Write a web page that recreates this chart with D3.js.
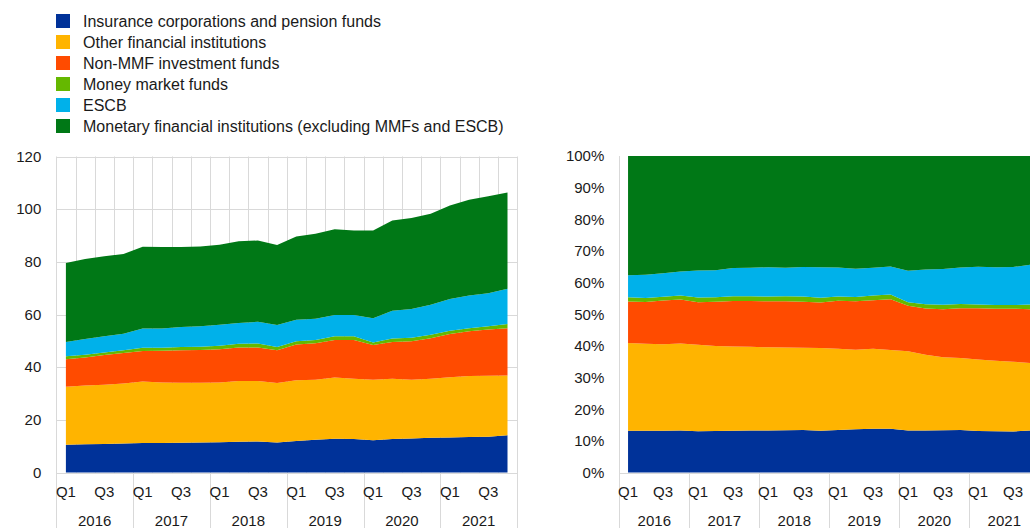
<!DOCTYPE html>
<html>
<head>
<meta charset="utf-8">
<script src="https://cdn.jsdelivr.net/npm/d3@7"></script>
<style>
  html, body { margin: 0; padding: 0; background: #fff; }
  svg { display: block; font-family: "Liberation Sans", Arial, sans-serif; }
</style>
</head>
<body>
<svg id="chart" width="1030" height="528"></svg>
<script>
// ---------------- DATA ----------------
const years = ["2016", "2017", "2018", "2019", "2020", "2021"];
const quarterNames = ["Q1", "Q2", "Q3", "Q4"];
const quarterTickLabels = ["Q1", "Q3"];

const seriesNames = [
  "Insurance corporations and pension funds",
  "Other financial institutions",
  "Non-MMF investment funds",
  "Money market funds",
  "ESCB",
  "Monetary financial institutions (excluding MMFs and ESCB)"
];
const seriesColors = ["#003299", "#ffb400", "#ff4b00", "#65b800", "#00b1ea", "#007816"];

// Values, 2016Q1 .. 2021Q4
const insurancePension = [10.5,10.7,10.8,11.0,11.2,11.2,11.3,11.4,11.5,11.7,11.8,11.4,12.0,12.4,12.8,12.7,12.2,12.7,12.9,13.2,13.3,13.5,13.6,14.1];
const otherFinancial   = [22.1,22.3,22.5,22.8,23.4,23.0,22.8,22.7,22.7,23.0,22.9,22.6,23.0,22.8,23.3,22.9,23.0,22.9,22.3,22.4,22.9,23.1,23.1,22.7];
const nonMMFFunds      = [10.4,10.7,11.3,11.6,11.5,12.0,12.3,12.4,12.6,12.8,12.8,12.4,13.6,13.9,14.2,14.7,13.2,14.0,14.6,15.4,16.4,17.0,17.6,18.0];
const moneyMarketFunds = [1.1,1.0,1.0,1.0,1.3,1.2,1.3,1.3,1.3,1.4,1.5,1.3,1.2,1.2,1.4,1.4,1.0,1.3,1.4,1.3,1.2,1.2,1.2,1.6];
const escb             = [5.5,6.0,6.1,6.3,7.3,7.3,7.6,7.7,8.0,7.9,8.2,8.3,8.2,8.1,8.1,8.1,9.2,10.5,10.9,11.4,12.1,12.4,12.6,13.4];
const mfiExcl          = [30.0,30.4,30.4,30.3,31.0,30.9,30.3,30.3,30.4,31.0,30.9,30.4,31.6,32.3,32.6,32.1,33.3,34.3,34.5,34.6,35.5,36.4,36.8,36.5];

const leftTicks = [0, 20, 40, 60, 80, 100, 120];
const rightTicks = [0, 0.1, 0.2, 0.3, 0.4, 0.5, 0.6, 0.7, 0.8, 0.9, 1.0];

// ---------------- BUILD TABLE ----------------
const periods = [];
years.forEach(y => quarterNames.forEach(q => periods.push({ year: y, q: q })));
const keys = ["ic", "ofi", "nmmf", "mmf", "escb", "mfi"];
const seriesArrays = [insurancePension, otherFinancial, nonMMFFunds, moneyMarketFunds, escb, mfiExcl];
const table = periods.map((p, i) => {
  const row = { idx: i, year: p.year, q: p.q };
  keys.forEach((k, j) => row[k] = seriesArrays[j][i]);
  return row;
});

const svg = d3.select("#chart");
const FONT = 15;
const gridColor = "#d9d9d9";
const textColor = "#1a1a1a";

// ---------------- LEGEND ----------------
const legend = svg.append("g");
seriesNames.forEach((name, i) => {
  legend.append("rect")
    .attr("x", 56).attr("y", 14 + i * 21)
    .attr("width", 14).attr("height", 14)
    .attr("fill", seriesColors[i]);
  legend.append("text")
    .attr("x", 83).attr("y", 26.5 + i * 21)
    .attr("font-size", 16).attr("fill", textColor)
    .text(name);
});

// ---------------- PANEL FUNCTION ----------------
function panel(cfg) {
  const g = svg.append("g");
  const x = d3.scaleBand().domain(table.map(d => d.idx)).range([cfg.x0, cfg.x1]).padding(0);
  const y = d3.scaleLinear().domain(cfg.domain).range([cfg.yBottom, cfg.yTop]);
  const bw = x.bandwidth();
  const cx = i => x(i) + bw / 2;

  // grid
  const grid = g.append("g");
  if (cfg.hGrid) {
    cfg.ticks.forEach(t => {
      grid.append("line")
        .attr("x1", cfg.x0).attr("x2", cfg.x1)
        .attr("y1", Math.round(y(t)) + 0.5).attr("y2", Math.round(y(t)) + 0.5)
        .attr("stroke", gridColor).attr("stroke-width", 1);
    });
  }
  for (let i = 0; i <= table.length; i++) {
    const xx = i < table.length ? x(i) : cfg.x1;
    const isYear = i % 4 === 0;
    const top = (cfg.vGrid || i === 0) ? cfg.yTop : cfg.yBottom;
    const bottom = isYear ? 528 : cfg.yBottom;
    if (!cfg.vGrid && !isYear) continue;
    grid.append("line")
      .attr("x1", Math.round(xx) + 0.5).attr("x2", Math.round(xx) + 0.5)
      .attr("y1", top).attr("y2", bottom)
      .attr("stroke", gridColor).attr("stroke-width", 1);
  }
  // baseline
  grid.append("line")
    .attr("x1", cfg.x0).attr("x2", cfg.x1)
    .attr("y1", Math.round(y(0)) + 0.5).attr("y2", Math.round(y(0)) + 0.5)
    .attr("stroke", gridColor).attr("stroke-width", 1);

  // stack
  const stack = d3.stack().keys(keys).offset(cfg.offset);
  const layers = stack(table);
  const area = d3.area()
    .x(d => cx(d.data.idx))
    .y0(d => y(d[0]))
    .y1(d => y(d[1]))
    .curve(d3.curveLinear);
  g.append("g").selectAll("path")
    .data(layers)
    .join("path")
    .attr("d", area)
    .attr("fill", (d, i) => seriesColors[i]);

  // y axis labels
  const yAxis = d3.axisLeft(y).tickValues(cfg.ticks).tickSize(0).tickPadding(cfg.labelPad).tickFormat(cfg.fmt);
  const ya = g.append("g").attr("transform", `translate(${cfg.x0},0)`).call(yAxis);
  ya.select(".domain").remove();
  ya.selectAll("text").attr("font-size", FONT).attr("fill", textColor)
    .attr("font-family", '"Liberation Sans", Arial, sans-serif');

  // x labels: quarters
  const xl = g.append("g");
  table.forEach(d => {
    if (quarterTickLabels.includes(d.q)) {
      xl.append("text")
        .attr("x", cx(d.idx)).attr("y", 497)
        .attr("text-anchor", "middle")
        .attr("font-size", FONT).attr("fill", textColor)
        .text(d.q);
    }
  });
  years.forEach((yr, k) => {
    const first = x(k * 4);
    xl.append("text")
      .attr("x", first + bw * 2).attr("y", 526)
      .attr("text-anchor", "middle")
      .attr("font-size", FONT).attr("fill", textColor)
      .text(yr);
  });
}

panel({
  x0: 56.3, x1: 517.1, yTop: 156.5, yBottom: 472.5,
  domain: [0, 120], ticks: leftTicks, hGrid: true, vGrid: true,
  offset: d3.stackOffsetNone, labelPad: 15, fmt: d => d
});

panel({
  x0: 619.3, x1: 1039.3, yTop: 156, yBottom: 472.5,
  domain: [0, 1], ticks: rightTicks, hGrid: false, vGrid: false,
  offset: d3.stackOffsetExpand, labelPad: 15, fmt: d3.format(".0%")
});
</script>
</body>
</html>
